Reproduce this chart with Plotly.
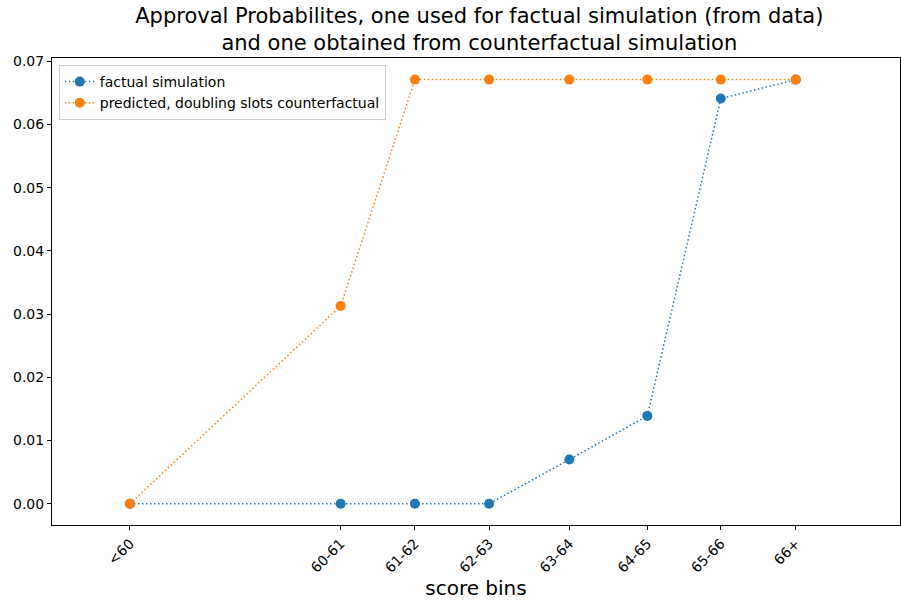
import plotly.graph_objects as go

# Score bins, their positions on the score axis, and approval probabilities
bin_labels = ["<60", "60-61", "61-62", "62-63", "63-64", "64-65", "65-66", "66+"]
bin_positions = [57.19, 60.0, 60.99, 61.98, 63.05, 64.09, 65.07, 66.07]
factual_prob = [0.0, 0.0, 0.0, 0.0, 0.0070, 0.0139, 0.0641, 0.0671]
counterfactual_prob = [0.0, 0.0313, 0.0671, 0.0671, 0.0671, 0.0671, 0.0671, 0.0671]

y_ticks = [0.0, 0.01, 0.02, 0.03, 0.04, 0.05, 0.06, 0.07]

FONT = "DejaVu Sans"
DOTTED = "1.5px,2.5px"

fig = go.Figure()
fig.add_trace(go.Scatter(
    x=bin_positions, y=factual_prob, name="factual simulation",
    mode="lines+markers",
    line=dict(color="#1f77b4", dash=DOTTED, width=1.5),
    marker=dict(color="#1f77b4", size=10),
))
fig.add_trace(go.Scatter(
    x=bin_positions, y=counterfactual_prob,
    name="predicted, doubling slots counterfactual",
    mode="lines+markers",
    line=dict(color="#ff7f0e", dash=DOTTED, width=1.5),
    marker=dict(color="#ff7f0e", size=10),
))

axis_common = dict(
    showline=True, linecolor="black", linewidth=1, mirror=True,
    showgrid=False, zeroline=False, automargin=False,
    ticks="outside", ticklen=4, tickcolor="black",
    tickfont=dict(family=FONT, size=14, color="black"),
)

fig.update_layout(
    width=901, height=600,
    paper_bgcolor="white", plot_bgcolor="white",
    margin=dict(l=52, r=1, t=58, b=75),
    font=dict(family=FONT, color="black"),
    title=dict(
        text="Approval Probabilites, one used for factual simulation (from data)"
             "<br>and one obtained from counterfactual simulation",
        x=0.532, xanchor="center", y=0.962, yanchor="top",
        font=dict(family=FONT, size=21, color="black"),
    ),
    xaxis=dict(
        **axis_common,
        range=[56.15, 67.46],
        tickmode="array", tickvals=bin_positions, ticktext=bin_labels,
        tickangle=-45,
        title=dict(text="score bins", font=dict(family=FONT, size=20), standoff=12),
    ),
    yaxis=dict(
        **axis_common,
        range=[-0.00336, 0.07052],
        tickmode="array", tickvals=y_ticks, tickformat=".2f",
    ),
    legend=dict(
        x=0.008, y=0.985, xanchor="left", yanchor="top",
        bgcolor="rgba(255,255,255,0.8)", bordercolor="#cccccc", borderwidth=1,
        font=dict(family=FONT, size=14, color="black"),
        tracegroupgap=2,
    ),
    showlegend=True,
)

fig.write_html("out.html")
